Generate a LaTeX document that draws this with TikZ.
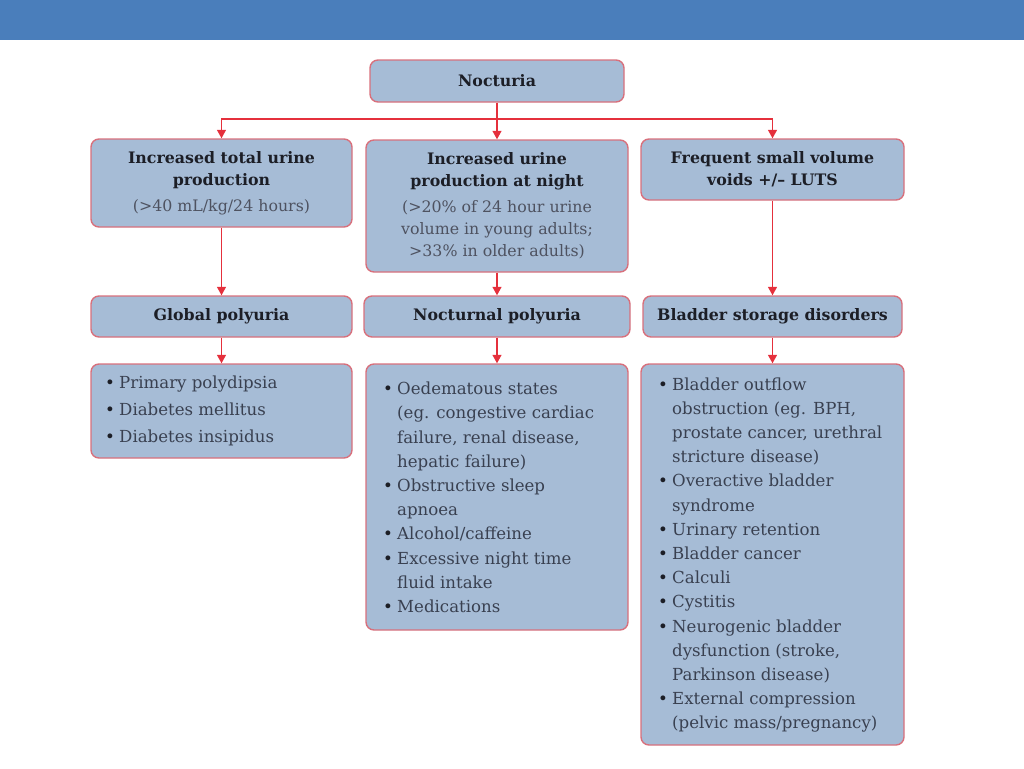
\documentclass[tikz,border=0pt]{standalone}
\usepackage{fontspec}
\setmainfont{DejaVu Serif}
\usetikzlibrary{arrows.meta}
\definecolor{banner}{HTML}{4A7EBB}
\definecolor{boxfill}{HTML}{A6BCD6}
\definecolor{boxline}{HTML}{D8707C}
\definecolor{arrowred}{HTML}{E5303C}
\definecolor{headtext}{HTML}{1C1E26}
\definecolor{subtext}{HTML}{4E5260}
\definecolor{listtext}{HTML}{394050}
\newcommand{\bul}{\makebox[14pt][l]{\textcolor{headtext}{\textbullet}}}
\begin{document}
\begin{tikzpicture}[x=1pt,y=-1pt]
          \tikzstyle{every node} = [draw=boxline, fill=boxfill, line width=1.4pt, rounded corners=8pt, inner sep=0pt, align=center, font=\fontsize{15.8}{22}\selectfont, text=headtext];
          \tikzstyle{head} = [font=\fontsize{15.8}{22}\selectfont\bfseries];
          \tikzstyle{list} = [align=left, text=listtext];
          \tikzstyle{link} = [draw=arrowred, line width=1.3pt, -{Triangle[width=9pt,length=8.5pt]}];
          \useasboundingbox (0,0) rectangle (1024,768);
          \fill[banner] (0,0) rectangle (1024,40);
          % top
          \node[head, minimum width=254pt, minimum height=42pt](noct) at (497,81) {Nocturia};
          % first row
          \node[minimum width=261pt, minimum height=88pt](total) at (221.5,183) {\textbf{Increased total urine}\\\textbf{production}\\[4pt]\textcolor{subtext}{(>40 mL/kg/24 hours)}};
          \node[minimum width=262pt, minimum height=132pt](night) at (497,206) {\textbf{Increased urine}\\\textbf{production at night}\\[4pt]\textcolor{subtext}{(>20\% of 24 hour urine}\\\textcolor{subtext}{volume in young adults;}\\\textcolor{subtext}{>33\% in older adults)}};
          \node[head, minimum width=263pt, minimum height=61pt](voids) at (772.5,169.5) {Frequent small volume\\voids +/\textendash{} LUTS};
          % second row
          \node[head, minimum width=261pt, minimum height=41pt](glob) at (221.5,316.5) {Global polyuria};
          \node[head, minimum width=266pt, minimum height=41pt](noctp) at (497,316.5) {Nocturnal polyuria};
          \node[head, minimum width=259pt, minimum height=41pt](blad) at (772.5,316.5) {Bladder storage disorders};
          % lists
          \node[list, minimum width=261pt, minimum height=94pt](glist) at (221.5,411) {};
          \node[list, minimum width=262pt, minimum height=266pt](nlist) at (497,497) {};
          \node[list, minimum width=263pt, minimum height=381pt](blist) at (772.5,554.5) {};
          \tikzstyle{every node} = [inner sep=0pt, align=left, text=listtext, font=\fontsize{16.6}{24.2}\selectfont]
          \node[anchor=west](gtext) at (105,411) {\bul Primary polydipsia\\[3pt]
            \bul Diabetes mellitus\\[3pt]
            \bul Diabetes insipidus};
          \node[anchor=west](ntext) at (383,497.5) {\bul Oedematous states\\
            \hspace*{14pt}(eg. congestive cardiac\\
            \hspace*{14pt}failure, renal disease,\\
            \hspace*{14pt}hepatic failure)\\
            \bul Obstructive sleep\\
            \hspace*{14pt}apnoea\\
            \bul Alcohol/caffeine\\
            \bul Excessive night time\\
            \hspace*{14pt}fluid intake\\
            \bul Medications};
          \node[anchor=west](btext) at (658,555) {\bul Bladder outflow\\
            \hspace*{14pt}obstruction (eg. BPH,\\
            \hspace*{14pt}prostate cancer, urethral\\
            \hspace*{14pt}stricture disease)\\
            \bul Overactive bladder\\
            \hspace*{14pt}syndrome\\
            \bul Urinary retention\\
            \bul Bladder cancer\\
            \bul Calculi\\
            \bul Cystitis\\
            \bul Neurogenic bladder\\
            \hspace*{14pt}dysfunction (stroke,\\
            \hspace*{14pt}Parkinson disease)\\
            \bul External compression\\
            \hspace*{14pt}(pelvic mass/pregnancy)};
          % connectors
          \coordinate (split) at (497,119);
          \path[link] (noct) -- (night);
          \path[link] (split) -| (total);
          \path[link] (split) -| (voids);
          \path[link] (total) -- (glob);
          \path[link] (night) -- (noctp);
          \path[link] (voids) -- (blad);
          \path[link] (glob) -- (glist);
          \path[link] (noctp) -- (nlist);
          \path[link] (blad) -- (blist);
\end{tikzpicture}
\end{document}
